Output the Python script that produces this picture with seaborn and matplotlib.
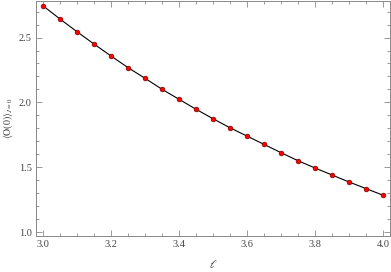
import numpy as np
import pandas as pd
import seaborn as sns
from matplotlib import pyplot as plt
from matplotlib.ticker import MultipleLocator

ell = [3.00, 3.05, 3.10, 3.15, 3.20, 3.25, 3.30, 3.35, 3.40, 3.45, 3.50,
       3.55, 3.60, 3.65, 3.70, 3.75, 3.80, 3.85, 3.90, 3.95, 4.00]
vev = [2.746, 2.644, 2.546, 2.451, 2.359, 2.269, 2.187, 2.102, 2.025, 1.948, 1.875,
       1.805, 1.741, 1.677, 1.613, 1.551, 1.495, 1.441, 1.387, 1.336, 1.285]

df = pd.DataFrame({'ell': ell, 'vev': vev})

sns.set_style('ticks')
plt.rcParams['font.family'] = ['Liberation Serif', 'DejaVu Serif']
plt.rcParams['mathtext.fontset'] = 'stix'

fig = plt.figure(figsize=(3.91, 2.72), dpi=100)
ax = fig.add_axes([0.092, 0.132, 0.905, 0.866])

sns.lineplot(data=df, x='ell', y='vev', color='black', linewidth=0.8, ax=ax)
sns.scatterplot(data=df, x='ell', y='vev', color='red', s=12, edgecolor='#600000',
                linewidth=0.4, ax=ax, zorder=3)

ax.set_xlim(2.98, 4.02)
ax.set_ylim(0.97, 2.785)
ax.xaxis.set_minor_locator(MultipleLocator(0.05))
ax.yaxis.set_minor_locator(MultipleLocator(0.1))
ax.set_xticks([3.0, 3.2, 3.4, 3.6, 3.8, 4.0])
ax.set_xticklabels(['3.0', '3.2', '3.4', '3.6', '3.8', '4.0'])
ax.set_yticks([1.0, 1.5, 2.0, 2.5])
ax.set_yticklabels(['1.0', '1.5', '2.0', '2.5'])

ax.tick_params(which='both', direction='in', top=True, right=True, color='#888888',
               labelcolor='#444444', labelsize=7.5, width=0.6)
ax.tick_params(which='major', length=4, pad=3)
ax.tick_params(which='minor', length=2)
for sp in ax.spines.values():
    sp.set_color('#888888')
    sp.set_linewidth(0.7)

ax.set_xlabel(r'$\ell$', fontsize=8, color='#333333', labelpad=6)
ax.set_ylabel(r'$\langle \mathrm{O}(0)\rangle_{J=0}$', fontsize=7, color='#333333', labelpad=3)

plt.savefig('out.png', dpi=100)
